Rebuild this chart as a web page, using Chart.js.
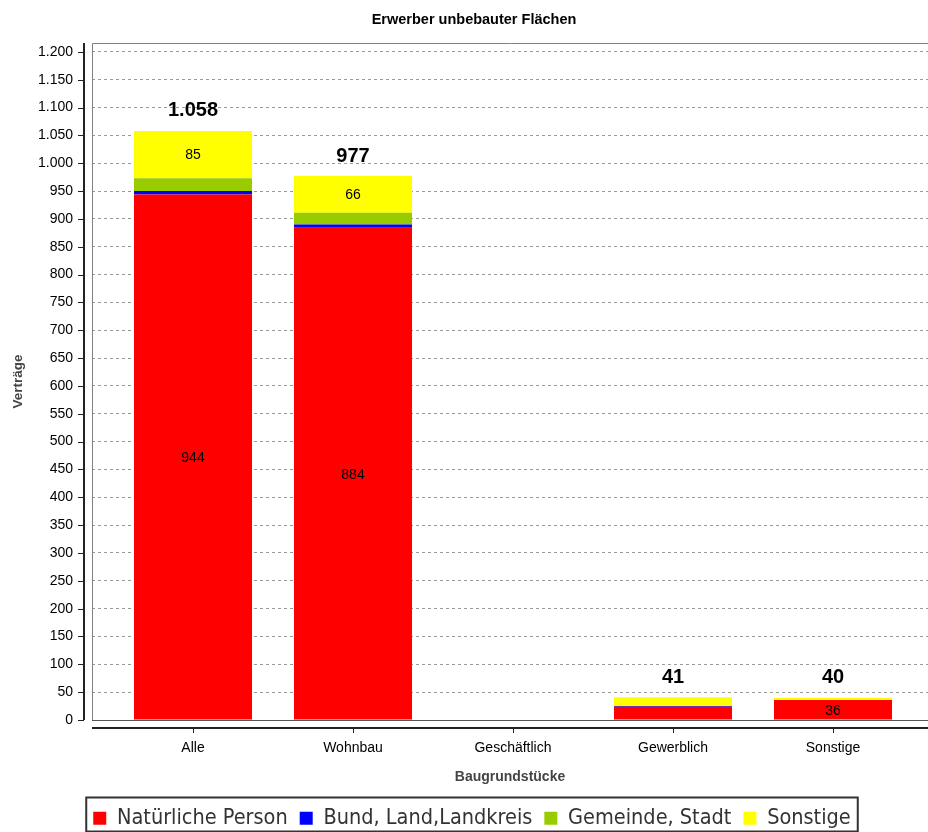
<!DOCTYPE html>
<html><head><meta charset="utf-8">
<script src="https://cdn.jsdelivr.net/npm/chart.js@4"></script>
<style>html,body{margin:0;padding:0;background:#fff}</style>
</head><body>
<canvas id="c" width="928" height="832"></canvas>
<script>
const chartTitle = 'Erwerber unbebauter Flächen';
const xAxisTitle = 'Baugrundstücke';
const yAxisTitle = 'Verträge';
const categories = ['Alle', 'Wohnbau', 'Geschäftlich', 'Gewerblich', 'Sonstige'];
const seriesNames = ['Natürliche Person', 'Bund, Land,Landkreis', 'Gemeinde, Stadt', 'Sonstige'];
const natuerlichePerson = [944, 884, 0, 24, 36];
const bundLandLandkreis = [6, 6, 0, 1, 0];
const gemeindeStadt = [23, 21, 0, 0, 0];
const sonstige = [85, 66, 0, 16, 4];
const totals = [1058, 977, 0, 41, 40];
const yTickValues = [0, 50, 100, 150, 200, 250, 300, 350, 400, 450, 500, 550, 600, 650, 700, 750, 800, 850, 900, 950, 1000, 1050, 1100, 1150, 1200];

const FONT = "'Liberation Sans', Arial, sans-serif";
const LEGEND_FONT = "'DejaVu Sans Condensed', 'DejaVu Sans', sans-serif";
const colors = ['#FF0000', '#0000FF', '#99CC00', '#FFFF00'];
const seriesValues = [natuerlichePerson, bundLandLandkreis, gemeindeStadt, sonstige];

function de(n) { return String(n).replace(/\B(?=(\d{3})+(?!\d))/g, '.'); }

const LG_DX = 8, LG_DY = 7;

const framePlugin = {
  id: 'frame',
  beforeDraw(chart) {
    const lg = chart.legend;
    if (lg && !lg._shifted) { lg.top += LG_DY; lg.bottom += LG_DY; lg.left += LG_DX; lg.right += LG_DX; lg._shifted = true; }
    const tb = chart.titleBlock;
    if (tb && !tb._shifted) { tb.left += 10; tb.right += 10; tb.top += 1; tb.bottom += 1; tb._shifted = true; }
  },
  afterDatasetsDraw(chart) {
    const {ctx, chartArea: a, scales} = chart;
    ctx.save();
    // plot outline (top, left, bottom)
    ctx.strokeStyle = '#808080';
    ctx.lineWidth = 1;
    ctx.beginPath();
    ctx.moveTo(a.right, a.top + 0.5);
    ctx.lineTo(a.left + 0.5, a.top + 0.5);
    ctx.lineTo(a.left + 0.5, a.bottom);
    ctx.stroke();
    ctx.strokeStyle = '#555';
    ctx.beginPath();
    ctx.moveTo(a.left, a.bottom + 0.5);
    ctx.lineTo(a.right, a.bottom + 0.5);
    ctx.stroke();
    // y axis line (offset)
    ctx.strokeStyle = '#222';
    ctx.lineWidth = 2;
    ctx.beginPath();
    ctx.moveTo(a.left - 8, a.top);
    ctx.lineTo(a.left - 8, a.bottom);
    ctx.stroke();
    ctx.lineWidth = 1;
    scales.y.ticks.forEach(t => {
      const y = Math.round(scales.y.getPixelForValue(t.value)) + 0.5;
      ctx.beginPath(); ctx.moveTo(a.left - 14, y); ctx.lineTo(a.left - 8, y); ctx.stroke();
    });
    // x axis line (offset)
    ctx.lineWidth = 2;
    ctx.beginPath();
    ctx.moveTo(a.left, a.bottom + 8);
    ctx.lineTo(a.right, a.bottom + 8);
    ctx.stroke();
    ctx.lineWidth = 1;
    scales.x.ticks.forEach(t => {
      const x = Math.round(scales.x.getPixelForValue(t.value)) + 0.5;
      ctx.beginPath(); ctx.moveTo(x, a.bottom + 8); ctx.lineTo(x, a.bottom + 13); ctx.stroke();
    });
    // segment labels
    ctx.fillStyle = '#000';
    ctx.textAlign = 'center';
    ctx.textBaseline = 'middle';
    ctx.font = '14px ' + FONT;
    chart.data.datasets.forEach((ds, di) => {
      const meta = chart.getDatasetMeta(di);
      meta.data.forEach((bar, i) => {
        const v = seriesValues[di][i];
        const h = Math.abs(bar.base - bar.y);
        if (v > 0 && h >= 18) ctx.fillText(String(v), bar.x, (bar.y + bar.base) / 2 + 1);
      });
    });
    // totals
    ctx.font = 'bold 20px ' + FONT;
    totals.forEach((t, i) => {
      if (t > 0) {
        const x = scales.x.getPixelForValue(i);
        const y = scales.y.getPixelForValue(t);
        ctx.fillText(de(t), x, y - 20);
      }
    });
    ctx.restore();
  },
  afterDraw(chart) {
    const lg = chart.legend;
    if (!lg || !lg.legendHitBoxes || !lg.legendHitBoxes.length) return;
    const hb = lg.legendHitBoxes;
    let l = Infinity, r = -Infinity;
    hb.forEach(b => { l = Math.min(l, b.left); r = Math.max(r, b.left + b.width); });
    const {ctx} = chart;
    ctx.save();
    ctx.strokeStyle = '#333';
    ctx.lineWidth = 2;
    ctx.strokeRect(l + LG_DX - 7, lg.top + 2, (r - l) + 14, 34);
    ctx.restore();
  }
};

new Chart(document.getElementById('c'), {
  type: 'bar',
  data: {
    datasets: seriesNames.map((name, di) => ({
      label: name,
      data: seriesValues[di].map((v, i) => ({x: i, y: v})),
      backgroundColor: colors[di],
      borderWidth: 0,
      categoryPercentage: 1,
      barPercentage: 0.7375,
      stack: 's'
    }))
  },
  options: {
    responsive: false,
    animation: false,
    devicePixelRatio: 1,
    layout: {padding: {left: 0, right: 0, top: 0, bottom: 0}},
    scales: {
      x: {
        type: 'linear',
        stacked: true,
        min: -0.63125,
        max: 4.59375,
        offset: false,
        grid: {display: false},
        border: {display: false},
        afterBuildTicks: s => { s.ticks = categories.map((c, i) => ({value: i})); },
        afterFit: s => { s.height = 68.5; },
        ticks: {
          callback: v => categories[v] ?? '',
          autoSkip: false, maxRotation: 0,
          font: {family: FONT, size: 14}, color: '#000', padding: 12
        },
        title: {display: true, text: xAxisTitle, color: '#444', font: {family: FONT, size: 14, weight: 'bold'}, padding: {top: 0, bottom: 3}}
      },
      y: {
        stacked: true,
        min: 0, max: 1216,
        afterBuildTicks: s => { s.ticks = yTickValues.map(v => ({value: v})); },
        afterFit: s => { s.width = 92; },
        ticks: {callback: v => de(v), font: {family: FONT, size: 14}, color: '#000', padding: 19},
        grid: {color: '#999', drawTicks: false, lineWidth: 1},
        border: {display: false, dash: [3, 3]},
        title: {display: true, text: yAxisTitle, color: '#444', font: {family: FONT, size: 13.5, weight: 'bold'}, padding: {top: 10, bottom: 0}}
      }
    },
    plugins: {
      title: {display: true, text: chartTitle, color: '#000', font: {family: FONT, size: 14.5, weight: 'bold'}, padding: {top: 10, bottom: 15.6}},
      legend: {
        position: 'bottom',
        labels: {boxWidth: 13, boxHeight: 13, color: '#333', padding: 12, font: {family: LEGEND_FONT, size: 21.5}}
      },
      tooltip: {enabled: false}
    }
  },
  plugins: [framePlugin]
});
</script>
</body></html>
